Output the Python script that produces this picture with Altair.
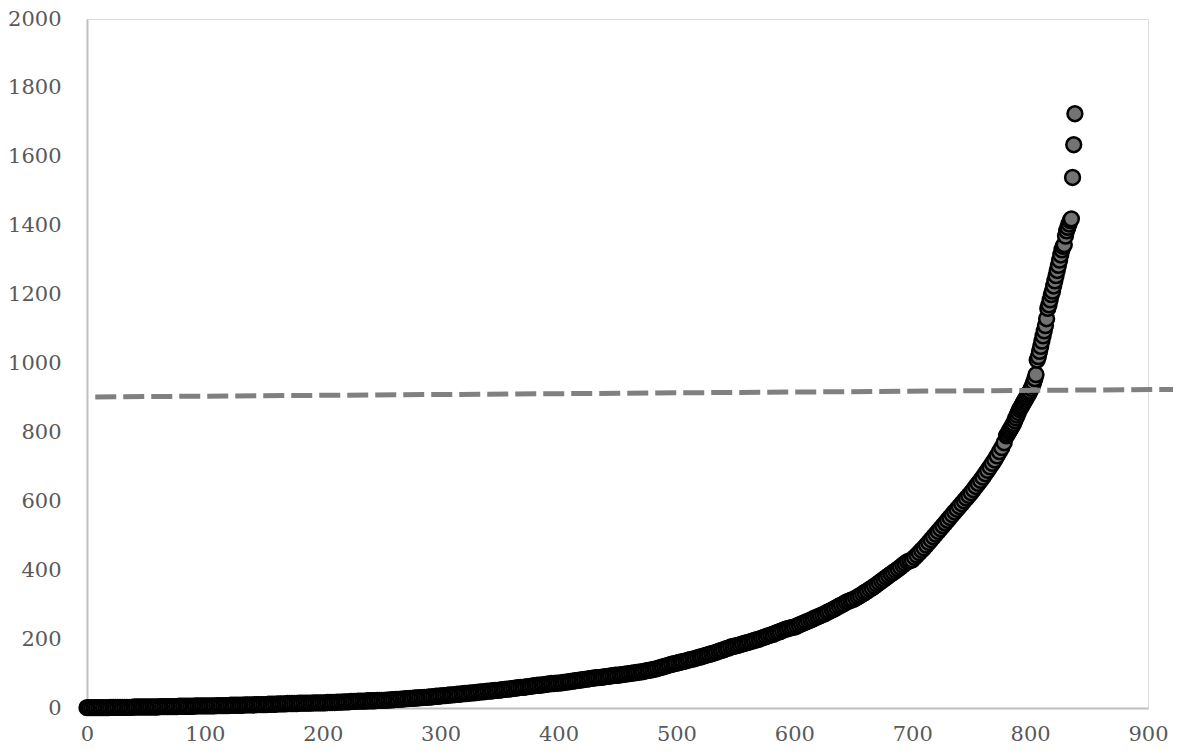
import altair as alt
import pandas as pd

ranks_dense = list(range(0, 781, 2))
values_dense = [
    1, 1, 1, 1, 1, 1, 1, 1, 1, 1, 2, 2, 2, 2, 2, 2, 2, 2, 2, 2, 3, 3, 3, 3, 3,
    3, 3, 3, 3, 3, 3, 4, 4, 4, 4, 4, 4, 4, 4, 5, 5, 5, 5, 5, 5, 5, 6, 6, 6, 6,
    6, 6, 6, 6, 6, 7, 7, 7, 7, 7, 7, 8, 8, 8, 8, 8, 8, 9, 9, 9, 9, 9, 10, 10, 10,
    10, 10, 11, 11, 11, 11, 12, 12, 12, 12, 13, 13, 13, 13, 13, 14, 14, 14, 14, 14, 14, 15, 15, 15, 15,
    15, 15, 16, 16, 16, 16, 17, 17, 17, 18, 18, 18, 19, 19, 19, 20, 20, 20, 20, 21, 21, 21, 21, 22, 22,
    22, 22, 23, 23, 24, 24, 25, 25, 26, 26, 27, 27, 28, 28, 29, 29, 30, 30, 31, 31, 32, 32, 33, 34, 34,
    35, 36, 36, 37, 38, 38, 39, 40, 40, 41, 42, 42, 43, 44, 44, 45, 46, 47, 47, 48, 49, 49, 50, 51, 51,
    52, 53, 54, 55, 55, 56, 57, 58, 59, 60, 60, 61, 62, 63, 64, 65, 66, 66, 67, 68, 69, 70, 71, 71, 72,
    72, 73, 74, 75, 76, 77, 78, 79, 80, 81, 82, 83, 84, 85, 86, 87, 88, 88, 89, 90, 91, 92, 93, 94, 95,
    95, 96, 97, 98, 99, 100, 101, 102, 103, 104, 105, 106, 108, 109, 110, 112, 113, 115, 117, 119, 121, 123, 125, 127, 129,
    130, 132, 134, 135, 137, 139, 141, 142, 144, 146, 148, 150, 152, 154, 156, 158, 160, 162, 165, 167, 169, 172, 174, 177, 179,
    180, 182, 184, 186, 188, 190, 192, 194, 196, 198, 200, 203, 205, 207, 210, 212, 214, 217, 220, 222, 225, 228, 230, 232, 234,
    235, 238, 241, 244, 247, 250, 253, 256, 259, 262, 265, 268, 271, 274, 278, 281, 285, 288, 292, 296, 299, 303, 307, 310, 313,
    315, 319, 323, 327, 331, 336, 340, 345, 349, 354, 359, 364, 369, 374, 379, 384, 389, 394, 399, 404, 409, 415, 420, 425, 428,
    430, 437, 444, 451, 458, 465, 473, 481, 489, 497, 505, 513, 521, 529, 537, 545, 553, 561, 569, 577, 585, 593, 601, 609, 617,
    625, 634, 643, 652, 661, 670, 680, 690, 700, 710, 720, 732, 744, 756, 770, 790,
]

ranks_top = list(range(781, 839))
values_top = [
    796, 802, 808, 814, 820, 826, 834, 842, 850, 858, 866, 872, 878, 884, 890, 896, 902, 908, 914, 920,
    928, 936, 945, 956, 968, 1010, 1020, 1035, 1050, 1065, 1080, 1095, 1110, 1130, 1160, 1170, 1185, 1200, 1210, 1225,
    1240, 1255, 1270, 1285, 1300, 1315, 1330, 1340, 1345, 1370, 1385, 1395, 1405, 1415, 1420, 1540, 1635, 1725,
]

# Threshold (dashed) line end points
line_x = [7, 928]
line_y = [903, 925]

x_ticks = [0, 100, 200, 300, 400, 500, 600, 700, 800, 900]
y_ticks = [0, 200, 400, 600, 800, 1000, 1200, 1400, 1600, 1800, 2000]

pts = pd.DataFrame({
    "rank": ranks_dense + ranks_top,
    "value": values_dense + values_top,
})
line_df = pd.DataFrame({"rank": line_x, "value": line_y})

x_scale = alt.Scale(domain=[0, 900], nice=False, zero=False)
y_scale = alt.Scale(domain=[0, 2000], nice=False)

axis_common = dict(
    grid=False, ticks=False, domain=True, domainColor="#bfbfbf", domainWidth=2,
    labelFont="DejaVu Serif", labelFontSize=21, labelColor="#595959", title=None,
    format="d", labelFlush=False,
)

points = alt.Chart(pts).mark_circle(
    size=220, color="#737373", opacity=1, stroke="black", strokeWidth=2.5, clip=False
).encode(
    x=alt.X("rank:Q", scale=x_scale,
            axis=alt.Axis(values=x_ticks, labelPadding=15, **axis_common)),
    y=alt.Y("value:Q", scale=y_scale,
            axis=alt.Axis(values=y_ticks, labelPadding=26, **axis_common)),
)

line = alt.Chart(line_df).mark_line(
    color="#808080", strokeWidth=5, strokeDash=[21, 7], clip=False
).encode(
    x=alt.X("rank:Q", scale=x_scale),
    y=alt.Y("value:Q", scale=y_scale),
)

chart = alt.layer(points, line).properties(
    width=1061, height=689,
    autosize=alt.AutoSizeParams(type="none"),
    padding={"left": 79, "top": 11, "right": 25, "bottom": 38},
).configure_view(stroke=None).configure(background="white")

chart.save("out.html", embed_options={"renderer": "svg", "actions": False})
